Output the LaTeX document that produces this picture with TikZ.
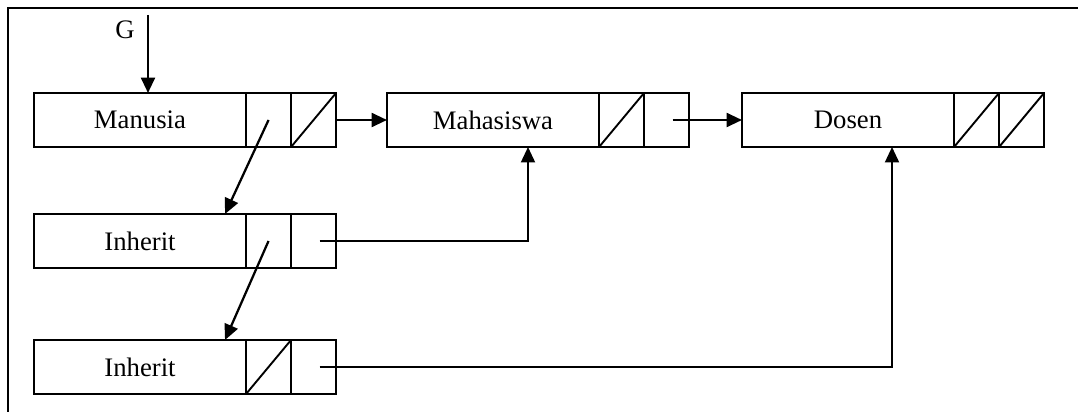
\documentclass[tikz,border=0pt]{standalone}
\usepackage{fontspec}
\setmainfont{Liberation Serif}
\usetikzlibrary{positioning,arrows.meta}
\begin{document}
\begin{tikzpicture}[x=0.025cm, y=-0.025cm, font=\fontsize{19}{22}\selectfont,
  rec/.style={draw, line width=1.35pt, minimum width=5.3cm, minimum height=1.35cm,
    inner sep=0pt, outer sep=0pt},
  ptr/.style={draw, line width=1.35pt, minimum width=1.125cm, minimum height=1.35cm,
    inner sep=0pt, outer sep=0pt},
  nil/.style={ptr, path picture={\draw[line width=1.35pt]
    (path picture bounding box.south west) -- (path picture bounding box.north east);}},
  link/.style={-{Triangle[length=11pt, width=10pt]}, line width=1.6pt},
  wire/.style={-{Triangle[length=11pt, width=10pt]}, line width=1.3pt}]
\useasboundingbox (0,0) rectangle (1078,412);
%% --- frame (top and left only) ---
\draw[line width=1.4pt] (8,412) -- (8,8) -- (1078,8);

%% --- records ---
\node[rec] (manusia) at (140,120) {Manusia};
\node[ptr, right=0pt of manusia] (manusia1) {};
\node[nil, right=0pt of manusia1] (manusia2) {};

\node[rec] (mahasiswa) at (493,120) {Mahasiswa};
\node[nil, right=0pt of mahasiswa] (mahasiswa1) {};
\node[ptr, right=0pt of mahasiswa1] (mahasiswa2) {};

\node[rec] (dosen) at (848,120) {Dosen};
\node[nil, right=0pt of dosen] (dosen1) {};
\node[nil, right=0pt of dosen1] (dosen2) {};

\node[rec] (inheritA) at (140,241) {Inherit};
\node[ptr, right=0pt of inheritA] (inheritA1) {};
\node[ptr, right=0pt of inheritA1] (inheritA2) {};

\node[rec] (inheritB) at (140,367) {Inherit};
\node[nil, right=0pt of inheritB] (inheritB1) {};
\node[ptr, right=0pt of inheritB1] (inheritB2) {};

%% --- head pointer ---
\node (g) at (125,30) {G};
\coordinate (gtop) at (148,15);
\draw[link] (gtop) -- (gtop |- manusia.north);

%% --- links ---
\draw[link] (manusia2.east) -- (mahasiswa.west);
\draw[link] ([xshift=0.15cm]mahasiswa2.center) -- (dosen.west);
\draw[link] (manusia1.center) -- ([xshift=-0.525cm]inheritA.north east);
\draw[link] (inheritA1.center) -- ([xshift=-0.525cm]inheritB.north east);
\draw[wire] ([xshift=0.15cm]inheritA2.center) -| ([xshift=0.875cm]mahasiswa.south);
\draw[wire] ([xshift=0.15cm]inheritB2.center) -| ([xshift=1.1cm]dosen.south);
\end{tikzpicture}
\end{document}
